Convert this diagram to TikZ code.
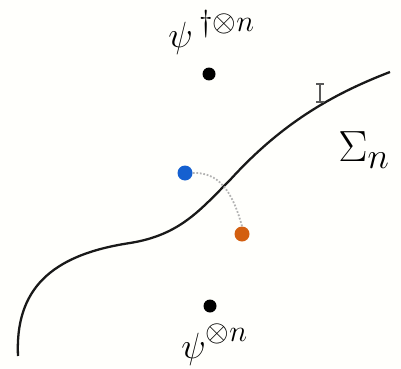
\documentclass[tikz,border=0pt]{standalone}
\usepackage{amsmath}
\newcommand{\supfs}[1]{\raisebox{0.42em}{\fontsize{18}{20}\selectfont$#1$}}
\begin{document}
\begin{tikzpicture}[x=0.02cm,y=-0.02cm,
  dot/.style={circle,fill=black,inner sep=0pt,minimum size=0.26cm},
  cdot/.style={circle,inner sep=0pt,minimum size=0.3cm},
  lbl/.style={inner sep=0pt,font=\fontsize{22}{26}\selectfont},
  biglbl/.style={inner sep=0pt,font=\fontsize{28}{32}\selectfont}]
\fill[white!99!yellow] (0,0) rectangle (401,368);
\useasboundingbox (0,0) rectangle (401,368);
\draw[line width=1.3pt,black!90] (18,356) .. controls (15,290) and (50,255) .. (130,243) .. controls (180,235) and (200,210) .. (230,180) .. controls (280,125) and (330,95) .. (390,72);
% I-beam mark
\draw[gray!70!black,line width=0.8pt] (320,84) -- (320,102) (316,84) -- (324,84) (316,102) -- (324,102);
\node[dot] (top) at (209,74) {};
\node[dot] (bot) at (210,306) {};
\node[cdot,fill={rgb,255:red,21;green,96;blue,208}] (blue) at (185,173) {};
\node[cdot,fill={rgb,255:red,211;green,95;blue,16}] (orange) at (242,234) {};
\draw[gray!60,line width=1pt,densely dotted] (blue.east) .. controls (218,172) and (232,190) .. (orange.north);
\node[lbl,anchor=base west] (toplbl) at (168,48) {$\psi$\,\supfs{\dagger{\otimes}n}};
\node[lbl,anchor=base west] (botlbl) at (181,358) {$\psi$\supfs{\otimes n}};
\node[biglbl] (sigma) at (364,150) {$\Sigma_n$};
\end{tikzpicture}
\end{document}
